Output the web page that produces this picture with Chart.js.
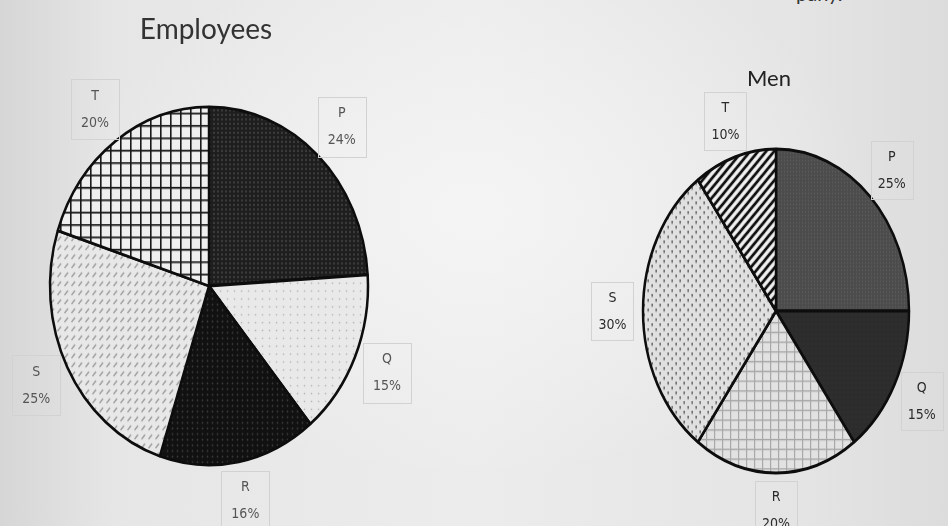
<!DOCTYPE html>
<html>
<head>
<meta charset="utf-8">
<script src="https://cdn.jsdelivr.net/npm/chart.js@4/dist/chart.umd.min.js"></script>
<style>
  html, body { margin: 0; padding: 0; }
  body {
    width: 948px; height: 526px; overflow: hidden; position: relative;
    background:
      radial-gradient(ellipse at 50% 40%, rgba(245,245,245,0.9) 0%, rgba(245,245,245,0) 60%),
      linear-gradient(to right, #d6d6d6 0%, #e6e6e6 12%, #ececec 50%, #e4e4e4 85%, #dcdcdc 100%);
  }
  canvas { position: absolute; top: 0; }
  #left { left: 0; }
  #right { left: 474px; }
  .cut {
    position: absolute; left: 796px; top: -19px;
    font: 20px Lato, sans-serif; color: #333;
  }
</style>
</head>
<body>
<div class="cut">pany.</div>
<canvas id="left" width="474" height="526"></canvas>
<canvas id="right" width="474" height="526"></canvas>
<script>
const categories = ['P', 'Q', 'R', 'S', 'T'];
const employeesPct = [24, 15, 16, 25, 20];
const menPct = [25, 15, 20, 30, 10];

function makePattern(w, h, bg, draw) {
  const c = document.createElement('canvas');
  c.width = w; c.height = h;
  const g = c.getContext('2d');
  g.fillStyle = bg;
  g.fillRect(0, 0, w, h);
  draw(g);
  return g.createPattern(c, 'repeat');
}

function dots(w, h, bg, color, r) {
  return makePattern(w, h, bg, g => {
    g.fillStyle = color;
    g.beginPath();
    g.arc(w / 2, h / 2, r, 0, Math.PI * 2);
    g.fill();
  });
}

function grid(w, h, bg, color, lw) {
  return makePattern(w, h, bg, g => {
    g.fillStyle = color;
    g.fillRect(0, 0, w, lw);
    g.fillRect(0, 0, lw, h);
  });
}

// left pie fills
const empFills = [
  dots(4, 4, '#1e1e1e', '#4a4a4a', 0.9),
  dots(7, 7, '#e9e9e9', '#b4b4b4', 0.8),
  dots(5, 5, '#111111', '#3c3c3c', 0.9),
  makePattern(7, 8, '#e8e8e8', g => {
    g.strokeStyle = '#9a9a9a'; g.lineWidth = 1.2;
    g.beginPath(); g.moveTo(1.5, 6); g.lineTo(5, 2); g.stroke();
  }),
  grid(10, 11, '#efefef', '#1a1a1a', 1.6)
];

// right pie fills
const menFills = [
  dots(3, 3, '#4c4c4c', '#5e5e5e', 0.7),
  dots(4, 4, '#2c2c2c', '#363636', 0.7),
  grid(8, 8, '#e2e2e2', '#a8a8a8', 1.2),
  makePattern(8, 8, '#e0e0e0', g => {
    g.fillStyle = '#555';
    g.fillRect(1.5, 1, 1.3, 2.4);
    g.fillRect(5.5, 5, 1.3, 2.4);
  }),
  makePattern(8, 8, '#f0f0f0', g => {
    g.strokeStyle = '#111'; g.lineWidth = 2.6;
    g.beginPath();
    g.moveTo(-1, 9); g.lineTo(9, -1);
    g.moveTo(-1, 1); g.lineTo(1, -1);
    g.moveTo(7, 9); g.lineTo(9, 7);
    g.stroke();
  })
];

// squash the pie into the ellipse seen in the photo
const ellipse = {
  id: 'ellipse',
  beforeDatasetsDraw(chart, args, opts) {
    const { x, y } = chart.getDatasetMeta(0).data[0];
    const ctx = chart.ctx;
    ctx.save();
    ctx.translate(x, y);
    ctx.scale(1, opts.scaleY);
    ctx.translate(-x, -y);
  },
  afterDatasetsDraw(chart) {
    chart.ctx.restore();
  }
};

// boxed data labels + title
const boxLabels = {
  id: 'boxLabels',
  afterDraw(chart, args, opts) {
    const ctx = chart.ctx;
    const meta = chart.getDatasetMeta(0);
    const values = chart.data.datasets[0].data;
    const sy = chart.options.plugins.ellipse.scaleY;
    ctx.save();
    ctx.font = opts.title.font;
    ctx.fillStyle = opts.title.color;
    ctx.textAlign = 'center';
    ctx.textBaseline = 'alphabetic';
    ctx.fillText(opts.title.text, opts.title.x, opts.title.y);

    ctx.font = opts.font;
    ctx.textBaseline = 'middle';
    meta.data.forEach((arc, i) => {
      const mid = (arc.startAngle + arc.endAngle) / 2;
      const r = arc.outerRadius * opts.dist;
      const px = arc.x + Math.cos(mid) * r;
      const py = arc.y + Math.sin(mid) * r * sy;
      ctx.strokeStyle = '#d2d2d2';
      ctx.lineWidth = 1;
      ctx.strokeRect(Math.round(px - opts.w / 2) + 0.5, Math.round(py - opts.h / 2) + 0.5, opts.w, opts.h);
      ctx.fillStyle = opts.color;
      ctx.fillText(chart.data.labels[i], px, py - 13);
      ctx.fillText(values[i] + '%', px, py + 14);
    });
    ctx.restore();
  }
};

function pieChart(canvas, values, fills, o) {
  return new Chart(canvas, {
    type: 'pie',
    data: {
      labels: categories,
      datasets: [{
        data: values,
        backgroundColor: fills,
        borderColor: '#0d0d0d',
        borderWidth: 2.5
      }]
    },
    options: {
      responsive: false,
      animation: false,
      devicePixelRatio: 1,
      radius: o.radius,
      layout: { padding: o.padding },
      plugins: {
        legend: { display: false },
        tooltip: { enabled: false },
        ellipse: { scaleY: o.scaleY },
        boxLabels: o.labels
      }
    },
    plugins: [ellipse, boxLabels]
  });
}

pieChart(document.getElementById('left'), employeesPct, empFills, {
  radius: 159,
  scaleY: 1.126,
  padding: { left: 0, right: 56, top: 46, bottom: 0 },
  labels: {
    dist: 1.22, w: 48, h: 60, font: '14px "DejaVu Sans Condensed", sans-serif', color: '#555',
    title: { text: 'Employees', x: 206, y: 39, font: '28px Lato, sans-serif', color: '#333' }
  }
});

pieChart(document.getElementById('right'), menPct, menFills, {
  radius: 133,
  scaleY: 1.218,
  padding: { left: 130, right: 0, top: 96, bottom: 0 },
  labels: {
    dist: 1.23, w: 42, h: 58, font: '14px "DejaVu Sans Condensed", sans-serif', color: '#2a2a2a',
    title: { text: 'Men', x: 295, y: 86, font: '22px Lato, sans-serif', color: '#222' }
  }
});
</script>
</body>
</html>
